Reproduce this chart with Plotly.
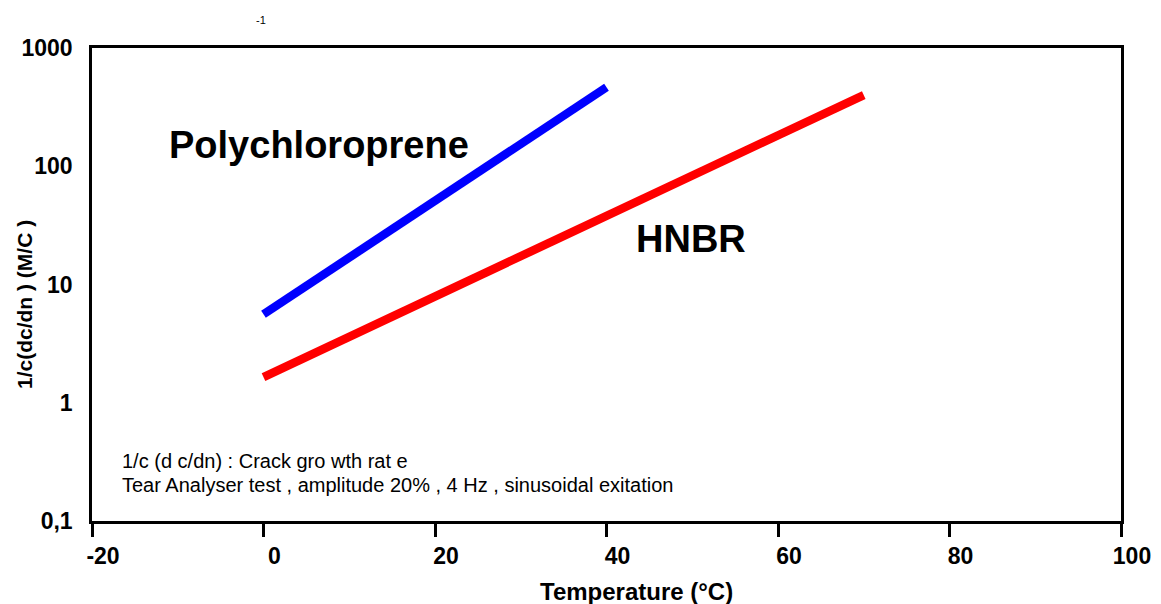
import plotly.graph_objects as go

# Crack growth rate vs temperature for two elastomers
temp_polychloroprene = [0, 40]
rate_polychloroprene = [5.6, 465]

temp_hnbr = [0, 70]
rate_hnbr = [1.65, 400]

x_ticks = [-20, 0, 20, 40, 60, 80, 100]
x_tick_labels = ["-20", "0", "20", "40", "60", "80", "100"]
y_ticks = [0.1, 1, 10, 100, 1000]
y_tick_labels = ["0,1", "1", "10", "100", "1000"]

FONT = "Liberation Sans, Arial, sans-serif"
L, R, T, B = 92, 40, 48, 83
PW, PH = 1161 - L - R, 604 - T - B


def px_x(px):
    return (px - L) / PW


def px_y(py):
    return (604 - B - py) / PH


fig = go.Figure()
fig.add_trace(go.Scatter(x=temp_polychloroprene, y=rate_polychloroprene, mode="lines",
                         line=dict(color="#0000FF", width=8.5), showlegend=False))
fig.add_trace(go.Scatter(x=temp_hnbr, y=rate_hnbr, mode="lines",
                         line=dict(color="#FF0000", width=8.5), showlegend=False))

fig.add_annotation(x=-11.2, y=2.18, xref="x", yref="y", text="<b>Polychloroprene</b>",
                   showarrow=False, xanchor="left", yanchor="middle",
                   font=dict(family=FONT, size=38, color="#000"))
fig.add_annotation(x=43.2, y=1.384, xref="x", yref="y", text="<b>HNBR</b>",
                   showarrow=False, xanchor="left", yanchor="middle",
                   font=dict(family=FONT, size=38, color="#000"))
fig.add_annotation(x=px_x(120), y=px_y(461), xref="paper", yref="paper",
                   text="1/c (d c/dn) : Crack gro wth rat e",
                   showarrow=False, xanchor="left", yanchor="middle",
                   font=dict(family=FONT, size=20, color="#000"))
fig.add_annotation(x=px_x(120), y=px_y(485), xref="paper", yref="paper",
                   text="Tear Analyser test , amplitude 20% , 4 Hz , sinusoidal exitation",
                   showarrow=False, xanchor="left", yanchor="middle",
                   font=dict(family=FONT, size=20, color="#000"))
fig.add_annotation(x=px_x(261), y=px_y(20), xref="paper", yref="paper",
                   text="-1", showarrow=False, xanchor="center", yanchor="middle",
                   font=dict(family=FONT, size=11, color="#000"))

# axis titles
fig.add_annotation(x=px_x(636), y=px_y(591), xref="paper", yref="paper",
                   text="<b>Temperature (°C)</b>", showarrow=False,
                   xanchor="center", yanchor="middle",
                   font=dict(family=FONT, size=24, color="#000"))
fig.add_annotation(x=px_x(25), y=px_y(305), xref="paper", yref="paper",
                   text="<b>1/c(dc/dn ) (M/C )</b>", showarrow=False, textangle=-90,
                   xanchor="center", yanchor="middle",
                   font=dict(family=FONT, size=21, color="#000"))

fig.update_layout(
    width=1161, height=604,
    margin=dict(l=L, r=R, t=T, b=B),
    paper_bgcolor="white", plot_bgcolor="white",
    font=dict(family=FONT, color="#000"),
    xaxis=dict(
        range=[-20, 100], tickmode="array", tickvals=x_ticks, ticktext=x_tick_labels,
        ticks="outside", ticklen=13, tickwidth=2.5, tickcolor="#000",
        showline=True, linewidth=2.5, linecolor="#000", mirror=True,
        showgrid=False, zeroline=False, automargin=False,
        tickfont=dict(family=FONT, size=23, color="#000", weight="bold"),
        ticklabelstandoff=0, ticklabelshift=11,
    ),
    yaxis=dict(
        type="log", range=[-1, 3], tickmode="array", tickvals=y_ticks, ticktext=y_tick_labels,
        ticks="", showline=True, linewidth=2.5, linecolor="#000", mirror=True,
        showgrid=False, zeroline=False, automargin=False,
        tickfont=dict(family=FONT, size=23, color="#000", weight="bold"),
        ticklabelstandoff=12,
    ),
)

fig.write_html("out.html")
